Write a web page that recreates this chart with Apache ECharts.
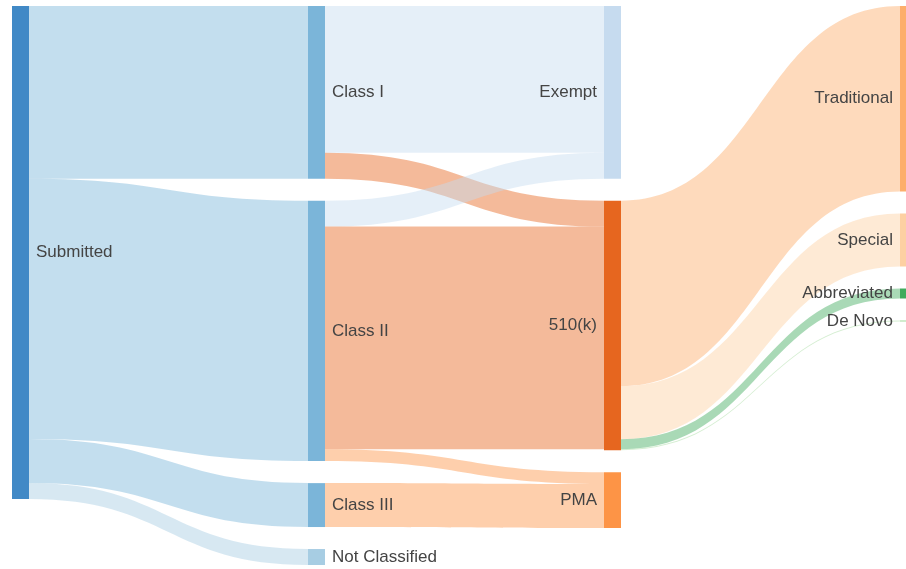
<!DOCTYPE html>
<html>
<head>
<meta charset="utf-8">
<script src="https://cdn.jsdelivr.net/npm/echarts@6/dist/echarts.min.js"></script>
<style>
html,body{margin:0;padding:0;background:#fff;}
#chart{width:906px;height:569px;}
</style>
</head>
<body>
<div id="chart"></div>
<script>
// Node names, grouped by column
const nodeNames = ['Submitted', 'Class I', 'Class II', 'Class III', 'Not Classified',
  'Exempt', '510(k)', 'PMA', 'Traditional', 'Special', 'Abbreviated', 'De Novo'];
const nodeColors = ['#4189c6', '#7bb5d9', '#7bb5d9', '#7bb5d9', '#a7cde3',
  '#c6dbef', '#e6661f', '#fd9446', '#fdae6b', '#fdd0a2', '#41ab5d', '#a1d99b'];
const labelSides = ['right', 'right', 'right', 'right', 'right',
  'left', 'left', 'left', 'left', 'left', 'left', 'left'];

// Flows
const linkSources = ['Submitted', 'Submitted', 'Submitted', 'Submitted',
  'Class I', 'Class I', 'Class II', 'Class II', 'Class II', 'Class III',
  '510(k)', '510(k)', '510(k)', '510(k)'];
const linkTargets = ['Class I', 'Class II', 'Class III', 'Not Classified',
  'Exempt', '510(k)', 'Exempt', '510(k)', 'PMA', 'PMA',
  'Traditional', 'Special', 'Abbreviated', 'De Novo'];
const linkValues = [173, 261, 44, 16,
  147, 26, 26, 223, 12, 44,
  186, 53, 10, 1];

const nodes = nodeNames.map((n, i) => ({
  name: n,
  itemStyle: { color: nodeColors[i], opacity: 1 },
  label: { position: labelSides[i] }
}));
const links = linkSources.map((s, i) => ({ source: s, target: linkTargets[i], value: linkValues[i] }));

const chart = echarts.init(document.getElementById('chart'), null, { renderer: 'canvas' });
chart.setOption({
  animation: false,
  backgroundColor: '#ffffff',
  series: [{
    type: 'sankey',
    left: 12,
    right: -11,
    top: 6,
    bottom: 4,
    nodeWidth: 17,
    nodeGap: 22,
    nodeAlign: 'left',
    layoutIterations: 0,
    draggable: false,
    emphasis: { disabled: true },
    data: nodes,
    links: links,
    itemStyle: { borderWidth: 0 },
    lineStyle: { color: 'target', opacity: 0.45, curveness: 0.5 },
    label: {
      show: true,
      color: '#444444',
      fontFamily: 'Liberation Sans, Arial, sans-serif',
      fontSize: 17,
      distance: 7
    }
  }]
});
</script>
</body>
</html>
